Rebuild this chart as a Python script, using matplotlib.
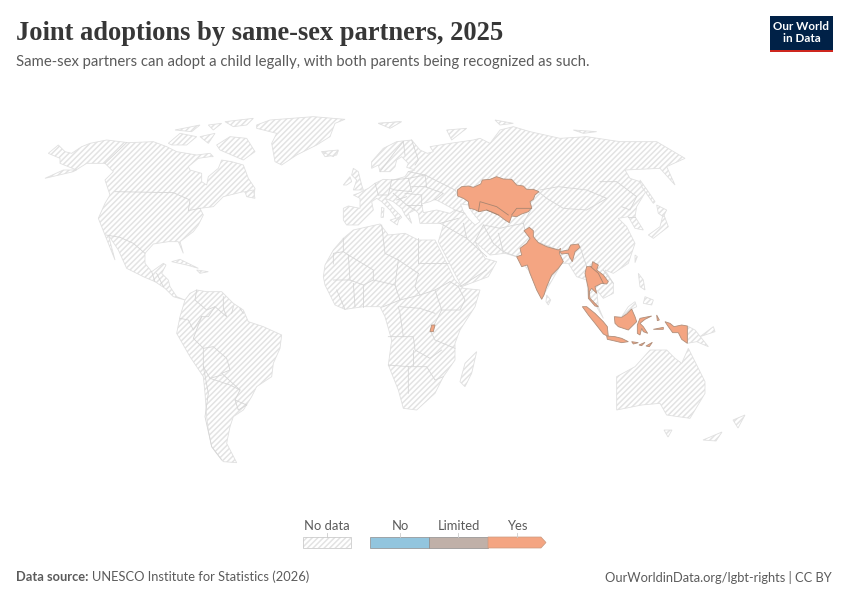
import matplotlib
matplotlib.use("Agg")
import matplotlib.pyplot as plt
from matplotlib.patches import Polygon, Rectangle

def west(pts):
    return [(30 + x / 3, 100 + y / 3) for x, y in pts]

def east(pts):
    return [(320 + x / 3, 110 + y / 3) for x, y in pts]

def europe(pts):
    return [(340 + x / 3, 130 + y / 3) for x, y in pts]

def arctic(pts):
    return [(40 + x / 3, 110 + y / 3) for x, y in pts]

north_america = (
    arctic([(25,130),(55,105),(75,125),(95,130),(125,110),(150,100),(200,90),(265,98),(340,95),(380,110),(410,125),(440,130),(470,135),(510,130),(520,140),(510,140),(475,145),(445,170),(450,180),(485,190),(485,215),(500,225),(505,200),(535,175),(545,150),(575,155),(610,165),(625,205),(645,235)])
    + west([(672,285),(640,275),(600,285),(580,290),(550,320),(510,325),(520,345),(505,375),(490,395),(450,425),(460,460),(445,425),(415,425),(370,432),(345,460),(345,490),(365,515),(400,490),(408,495),(395,520),(415,540),(420,560),(440,590),(465,600),(430,590),(405,565),(375,545),(340,530),(290,505),(265,450),(235,405),(255,480),(225,405),(205,355),(225,310),(240,285),(225,240),(250,215),(225,190),(170,190),(130,215),(45,235)])
    + arctic([(70,180),(110,180),(60,160),(60,145)])
)
south_america = west([(465,600),(480,580),(500,570),(530,575),(575,575),(610,610),(640,630),(655,665),(700,680),(755,705),(750,745),(730,790),(725,830),(680,860),(665,890),(640,930),(610,950),(600,980),(590,1030),(620,1088),(580,1085),(560,1060),(545,1040),(535,990),(530,950),(525,880),(520,830),(480,770),(440,700),(450,650)])
greenland = west([(680,75),(720,60),(850,50),(945,58),(915,70),(900,110),(860,135),(800,165),(755,195),(735,185),(725,130),(740,100),(680,85)])
west_islands = [west(p) for p in [
    [(875,155),(925,152),(920,165),(885,170)],
    [(1045,70),(1110,65),(1085,82)],
    [(425,485),(450,478),(505,505),(470,495)],
    [(500,510),(535,515),(510,520)],
    [(645,275),(670,270),(675,295),(650,290)],
]]
arctic_islands = [arctic(p) for p in [
    [(385,100),(420,70),(470,80),(440,105),(395,105)],
    [(405,60),(480,45),(455,65)],
    [(505,45),(545,40),(520,60)],
    [(555,35),(640,25),(620,45),(580,50)],
    [(480,80),(525,70),(505,100)],
    [(530,105),(570,80),(620,85),(645,125),(610,150),(575,135),(540,120)],
]]
west_borders = [west(p) for p in [
    [(255,275),(430,278),(480,300),(475,332),(510,325)],
    [(290,128),(225,190)],
    [(228,405),(270,412),(310,430),(345,460)],
    [(365,515),(375,545)],
    [(380,520),(400,560)],
    [(500,570),(495,600),(530,630),(555,620),(535,650),(515,650)],
    [(580,590),(580,625),(590,650),(555,620)],
    [(610,620),(605,640)],
    [(630,625),(640,640)],
    [(515,650),(490,715),(520,745),(550,740),(590,775),(600,810),(575,820),(630,870),(615,900),(650,915)],
    [(450,655),(475,660),(490,690),(515,650)],
    [(520,800),(535,880),(525,950),(545,1040),(575,1080)],
    [(520,745),(520,800),(540,835),(575,825)],
    [(540,835),(600,855),(630,870)],
    [(615,900),(625,930),(650,915)],
]]

africa = east([(15,465),(40,420),(70,385),(100,360),(180,342),(205,375),(255,370),(295,390),(345,390),(405,510),(430,535),(480,540),(465,590),(420,660),(405,700),(405,750),(370,800),(345,850),(290,900),(250,895),(235,840),(205,765),(215,690),(195,620),(180,590),(130,590),(75,598),(45,585),(15,525),(10,500)])
eurasia = (
    europe([(10,270),(10,235),(25,228),(60,235),(60,205),(40,195),(55,190),(85,175),(105,160),(130,148),(160,150),(195,140),(205,125),(225,120),(200,112),(205,100),(185,80),(170,90),(165,110),(150,125),(135,125),(120,125),(115,105),(95,115),(95,95),(130,55),(170,35),(215,30),(240,60),(262,70),(280,65),(270,50),(300,45)])
    + east([(390,100),(460,90),(480,85),(510,100),(540,60),(580,50),(630,65),(720,85),(800,80),(900,95),(1010,95),(1095,145),(1040,170),(1065,225),(1020,175),(915,180),(930,205),(960,215),(980,240),(950,290),(945,320),(970,360),(945,355),(925,320),(895,325),(920,350),(945,400),(925,460),(880,490),(855,480),(880,520),(880,550),(850,565),(830,540),(835,590),(850,625),(830,590),(805,560),(800,510),(770,500),(745,460),(725,460),(665,565),(625,480),(590,440),(555,430),(510,435),(465,395),(495,445),(530,455),(505,500),(425,530),(355,395),(370,345)])
    + europe([(300,280),(240,280),(235,250),(225,240),(205,250),(215,280),(195,255),(185,235),(160,215),(135,205),(160,235),(180,255),(185,262),(170,275),(165,260),(150,240),(125,215),(110,205),(95,215),(100,240),(85,255),(70,270),(55,285),(20,285)])
)
sea_patches = [europe(p) for p in [
    [(245,222),(270,215),(285,208),(305,218),(345,240),(330,250),(290,240),(250,248)],
    [(362,222),(385,225),(395,245),(420,275),(405,285),(385,265),(370,245)],
]]
east_islands = [east(p) for p in [
    [(985,375),(1020,350),(1030,310),(1045,350),(1000,385)],
    [(1010,285),(1040,300),(1030,320),(1015,310)],
    [(960,210),(985,245),(1005,275),(1000,280),(965,230)],
    [(945,435),(952,440),(945,458)],
    [(955,490),(970,510),(975,540),(960,530)],
    [(975,560),(1000,570),(995,585),(970,580)],
    [(680,555),(692,570),(685,585),(678,575)],
    [(470,725),(455,790),(435,830),(420,815),(435,760)],
    [(890,830),(890,800),(945,770),(990,720),(1040,720),(1065,745),(1085,760),(1105,715),(1155,815),(1155,850),(1110,925),(1040,915),(1020,880),(965,885),(890,900)],
    [(1102,648),(1125,660),(1165,710),(1130,695),(1102,700)],
    [(905,620),(925,590),(945,575),(950,590),(935,597)],
    [(380,60),(440,55),(395,90)],
    [(525,30),(580,40),(540,45)],
    [(175,40),(245,35),(210,55)],
    [(5,125),(55,120),(40,140)],
    [(760,60),(830,65),(790,70)],
    [(1140,680),(1180,650),(1185,665)],
]]
europe_islands = [europe(p) for p in [
    [(40,115),(55,125),(65,165),(70,180),(40,180),(50,150),(35,135)],
    [(10,165),(30,140),(35,155),(20,165)],
    [(125,232),(132,235),(130,262),(123,262)],
    [(150,270),(178,262),(172,285)],
]]
nz_tas = [[(703,440),(722,432),(716,441)], [(733,420),(745,415),(738,428)], [(664,430),(672,430),(668,437)]]
east_borders = [east(p) for p in [
    [(70,385),(70,425),(40,430),(40,462)],
    [(70,425),(85,435),(90,510)],
    [(85,435),(160,480),(160,510),(130,525),(90,510),(40,510)],
    [(185,345),(195,430),(235,450)],
    [(295,385),(295,460)],
    [(235,450),(295,490)],
    [(295,460),(385,460)],
    [(295,490),(285,530),(300,555),(345,540),(390,515)],
    [(235,450),(225,525),(160,510)],
    [(225,525),(240,570),(190,590)],
    [(300,555),(240,570)],
    [(390,515),(415,530),(435,570),(420,600),(365,600),(345,540)],
    [(365,600),(345,640),(330,660),(345,690),(405,715)],
    [(240,590),(300,595),(345,610)],
    [(205,680),(280,680),(285,720),(330,745),(365,720)],
    [(205,765),(265,770),(265,850)],
    [(265,770),(320,770),(345,810),(370,800)],
    [(280,720),(280,765)],
    [(235,590),(240,610),(250,680)],
    [(130,525),(130,590)],
    [(100,520),(105,590)],
    [(50,540),(75,598)],
    [(370,345),(440,385),(500,440)],
    [(440,385),(430,340)],
    [(465,395),(490,345),(540,355),(560,350),(610,340)],
    [(535,370),(550,425),(590,440)],
    [(490,345),(520,400),(550,425)],
    [(610,340),(615,360)],
    [(655,245),(680,265),(730,295),(800,300),(860,265),(800,240),(715,230),(660,240)],
    [(840,215),(890,215),(950,260),(930,300),(905,290)],
    [(635,295),(610,340)],
    [(650,395),(715,420)],
    [(780,410),(800,470)],
    [(850,480),(880,520)],
    [(945,320),(925,320)],
    [(420,530),(500,480)],
]]
europe_borders = [europe(p) for p in [
    [(105,160),(115,195)],
    [(115,195),(145,195),(155,150)],
    [(155,150),(205,145),(215,185),(165,180),(150,175)],
    [(205,145),(255,135),(260,170),(215,170)],
    [(255,170),(310,190),(285,210)],
    [(195,190),(245,195),(245,225)],
    [(160,190),(200,225),(225,240)],
    [(170,210),(200,200)],
    [(200,225),(245,225)],
    [(205,125),(255,135)],
    [(215,30),(235,90),(225,105)],
    [(190,35),(165,65),(135,105),(120,125)],
    [(190,35),(195,75)],
    [(345,240),(375,250)],
    [(300,280),(355,265)],
    [(255,135),(345,180),(352,190)],
]]

kazakhstan = east([(412,240),(425,230),(445,228),(460,232),(482,222),(487,210),(510,208),(530,200),(550,207),(575,208),(590,225),(610,228),(620,238),(640,238),(657,245),(645,255),(640,268),(630,275),(635,293),(625,305),(605,312),(590,320),(575,318),(568,338),(555,330),(535,315),(520,308),(500,300),(478,305),(462,298),(448,295),(445,275),(430,265),(413,258)])
india = east([(612,362),(628,352),(640,362),(640,380),(655,398),(680,410),(715,420),(722,415),(718,430),(730,455),(715,475),(695,495),(680,530),(672,555),(665,568),(650,540),(630,490),(622,465),(605,470),(590,440),(605,435),(600,415),(620,400),(630,385)])
northeast_india = east([(718,425),(745,420),(752,405),(775,402),(780,412),(765,425),(757,455),(748,440),(745,430),(725,432)])
thailand = east([(818,455),(835,465),(830,480),(850,495),(865,515),(860,522),(845,520),(825,530),(830,550),(815,535),(808,545),(810,565),(835,590),(825,588),(805,565),(805,535),(795,490),(800,470),(815,470)])
sumatra = east([(787,590),(800,590),(825,610),(850,635),(862,650),(865,680),(850,672),(825,640),(805,615)])
java = east([(860,678),(885,680),(905,685),(925,695),(905,698),(880,692),(862,688)])
kalimantan = east([(883,620),(905,622),(920,612),(935,597),(945,620),(950,635),(935,650),(925,660),(895,650),(885,640)])
sulawesi = east([(960,625),(995,618),(975,628),(960,640),(970,650),(983,670),(970,665),(965,655),(960,675),(952,670),(952,645)])
papua = east([(1035,635),(1050,640),(1062,650),(1085,645),(1102,648),(1102,700),(1085,688),(1075,668),(1058,668),(1045,650)])
lesser_sunda = [east(p) for p in [[(935,695),(955,698),(940,702)],[(957,705),(975,697),(965,707)],[(978,708),(997,697),(988,710)],[(1000,658),(1030,652),(1030,658)],[(1010,615),(1018,630),(1012,632)]]]
rwanda = east([(335,645),(345,645),(340,665),(330,665)])
yes_borders = [east(p) for p in [[(475,305),(480,275),(530,290),(565,315)],[(575,315),(590,295),(635,295)],[(500,300),(535,315)],[(812,470),(835,490),(850,520)]]]

titles = ["Joint adoptions by same-sex partners, 2025",
          "Same-sex partners can adopt a child legally, with both parents being recognized as such."]
legend_labels = ["No", "Limited", "Yes"]
legend_colors = ["#92c5de", "#c0b0a8", "#f4a582"]

NO_DATA = "#e3e3e3"
COAST = "#e0e0e0"
BORDER = "#d6d6d6"
TEXT = "#5b5b5b"

plt.rcParams["font.family"] = ["Lato", "DejaVu Sans"]
plt.rcParams["hatch.linewidth"] = 1.1

fig = plt.figure(figsize=(8.5, 6), dpi=100)
ax = fig.add_axes([0, 0, 1, 1])
ax.set_xlim(0, 850)
ax.set_ylim(600, 0)
ax.axis("off")


def no_data(pts):
    ax.add_patch(Polygon(pts, closed=True, facecolor="white", edgecolor=NO_DATA, hatch="//////", lw=0))
    ax.add_patch(Polygon(pts, closed=True, fill=False, edgecolor=COAST, lw=0.6))


for shape in [north_america, south_america, greenland, africa, eurasia] + west_islands + arctic_islands + east_islands + europe_islands + nz_tas:
    no_data(shape)
for shape in sea_patches:
    ax.add_patch(Polygon(shape, closed=True, facecolor="white", edgecolor=COAST, lw=0.6))
for line in west_borders + east_borders + europe_borders:
    xs, ys = zip(*line)
    ax.plot(xs, ys, color=BORDER, lw=0.6)

for shape in [kazakhstan, india, northeast_india, thailand, sumatra, java, kalimantan,
              sulawesi, papua, rwanda] + lesser_sunda:
    ax.add_patch(Polygon(shape, closed=True, facecolor=legend_colors[2], edgecolor="#b08f7b", lw=0.6, zorder=3))
for line in yes_borders:
    xs, ys = zip(*line)
    ax.plot(xs, ys, color="#a88570", lw=0.6, zorder=4)

# header
ax.text(16, 34, titles[0], family="Liberation Serif", fontweight="bold", fontsize=19.1, color="#373737", va="center")
ax.text(16, 62, titles[1], fontsize=10.75, color=TEXT, va="center")

# logo
ax.add_patch(Rectangle((770, 16), 63, 36, facecolor="#002147", lw=0))
ax.add_patch(Rectangle((770, 49.5), 63, 2.5, facecolor="#ce261e", lw=0))
ax.text(801.5, 26.5, "Our World", color="white", fontweight="bold", fontsize=8.4, ha="center", va="center")
ax.text(801.5, 39, "in Data", color="white", fontweight="bold", fontsize=8.4, ha="center", va="center")

# legend
ax.add_patch(Rectangle((303, 537), 48, 11, facecolor="white", edgecolor=NO_DATA, hatch="//////", lw=0))
ax.add_patch(Rectangle((303, 537), 48, 11, fill=False, edgecolor="#cccccc", lw=0.6))
ax.text(327, 526, "No data", fontsize=9.4, color=TEXT, ha="center", va="center")
ax.plot([327, 327], [533, 537], color="#cccccc", lw=0.6)
edges = [370, 429, 488, 541]
for i, label in enumerate(legend_labels):
    x0, x1 = edges[i], edges[i + 1]
    if i < 2:
        ax.add_patch(Rectangle((x0, 537), x1 - x0, 11, facecolor=legend_colors[i], edgecolor="#8c8c8c", lw=0.5))
    else:
        ax.add_patch(Polygon([(x0, 537), (x1, 537), (x1 + 5, 542.5), (x1, 548), (x0, 548)], closed=True,
                             facecolor=legend_colors[i], edgecolor="#c99a80", lw=0.5))
    mid = [400, 458.5, 517][i]
    ax.text(mid, 526, label, fontsize=9.4, color=TEXT, ha="center", va="center")
    ax.plot([mid, mid], [533, 537], color="#cccccc", lw=0.6)

# footer
ax.text(16, 577, "Data source:", fontsize=9.3, fontweight="bold", color=TEXT, va="center")
ax.text(92, 577, "UNESCO Institute for Statistics (2026)", fontsize=9.3, color=TEXT, va="center")
ax.text(832, 577, "OurWorldinData.org/lgbt-rights | CC BY", fontsize=9.3, color=TEXT, ha="right", va="center")

fig.savefig("out.png", dpi=100)
